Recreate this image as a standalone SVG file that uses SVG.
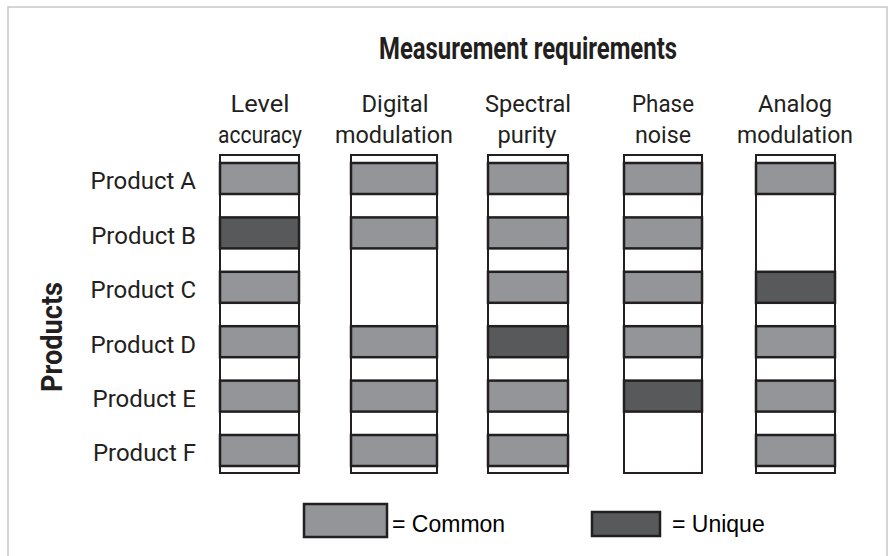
<svg xmlns="http://www.w3.org/2000/svg" width="890" height="556" viewBox="0 0 890 556">
<style>
.frame{fill:#fff;stroke:#c8c8c8;stroke-width:1.5}
.col{fill:#fff;stroke:#231f20;stroke-width:2}
.c{fill:#939598;stroke:#231f20;stroke-width:2.5}
.u{fill:#58595b;stroke:#231f20;stroke-width:2.5}
.lbl{font-family:Roboto,"Liberation Sans",sans-serif;font-size:24px;fill:#231f20}
.hd{font-family:Roboto,"Liberation Sans",sans-serif;font-weight:bold;fill:#231f20}
.leg{font-family:"Liberation Sans",Arial,sans-serif;font-size:23px;fill:#000}
</style>
<rect class="frame" x="8" y="7" width="879" height="560"/>
<text id="title" class="hd" x="528" y="59" font-size="31" text-anchor="middle" textLength="298" lengthAdjust="spacingAndGlyphs">Measurement requirements</text>
<text id="products" class="hd" font-size="30" text-anchor="middle" transform="translate(62,337) rotate(-90)" textLength="110" lengthAdjust="spacingAndGlyphs">Products</text>
<g id="row-labels" class="lbl" text-anchor="end">
<text x="196" y="189">Product A</text>
<text x="196" y="244">Product B</text>
<text x="196" y="298">Product C</text>
<text x="196" y="353">Product D</text>
<text x="196" y="407">Product E</text>
<text x="196" y="461">Product F</text>
</g>
<g id="col-level">
<text class="lbl" x="260" y="112" text-anchor="middle" textLength="59" lengthAdjust="spacingAndGlyphs">Level</text>
<text class="lbl" x="260" y="143" text-anchor="middle" textLength="84" lengthAdjust="spacingAndGlyphs">accuracy</text>
<rect class="col" x="220" y="155" width="79" height="318"/>
<rect class="c" x="220" y="163" width="79" height="31"/>
<rect class="u" x="220" y="217.4" width="79" height="31"/>
<rect class="c" x="220" y="271.8" width="79" height="31"/>
<rect class="c" x="220" y="326.2" width="79" height="31"/>
<rect class="c" x="220" y="380.6" width="79" height="31"/>
<rect class="c" x="220" y="435" width="79" height="31"/>
</g>
<g id="col-digital">
<text class="lbl" x="395" y="112" text-anchor="middle" textLength="67" lengthAdjust="spacingAndGlyphs">Digital</text>
<text class="lbl" x="394" y="143" text-anchor="middle" textLength="118" lengthAdjust="spacingAndGlyphs">modulation</text>
<rect class="col" x="351" y="155" width="86" height="318"/>
<rect class="c" x="351" y="163" width="86" height="31"/>
<rect class="c" x="351" y="217.4" width="86" height="31"/>
<rect class="c" x="351" y="326.2" width="86" height="31"/>
<rect class="c" x="351" y="380.6" width="86" height="31"/>
<rect class="c" x="351" y="435" width="86" height="31"/>
</g>
<g id="col-spectral">
<text class="lbl" x="528" y="112" text-anchor="middle" textLength="86" lengthAdjust="spacingAndGlyphs">Spectral</text>
<text class="lbl" x="527" y="143" text-anchor="middle" textLength="59" lengthAdjust="spacingAndGlyphs">purity</text>
<rect class="col" x="488" y="155" width="80" height="318"/>
<rect class="c" x="488" y="163" width="80" height="31"/>
<rect class="c" x="488" y="217.4" width="80" height="31"/>
<rect class="c" x="488" y="271.8" width="80" height="31"/>
<rect class="u" x="488" y="326.2" width="80" height="31"/>
<rect class="c" x="488" y="380.6" width="80" height="31"/>
<rect class="c" x="488" y="435" width="80" height="31"/>
</g>
<g id="col-phase">
<text class="lbl" x="663" y="112" text-anchor="middle" textLength="62" lengthAdjust="spacingAndGlyphs">Phase</text>
<text class="lbl" x="663" y="143" text-anchor="middle" textLength="56" lengthAdjust="spacingAndGlyphs">noise</text>
<rect class="col" x="624" y="155" width="78" height="318"/>
<rect class="c" x="624" y="163" width="78" height="31"/>
<rect class="c" x="624" y="217.4" width="78" height="31"/>
<rect class="c" x="624" y="271.8" width="78" height="31"/>
<rect class="c" x="624" y="326.2" width="78" height="31"/>
<rect class="u" x="624" y="380.6" width="78" height="31"/>
</g>
<g id="col-analog">
<text class="lbl" x="795" y="112" text-anchor="middle" textLength="74" lengthAdjust="spacingAndGlyphs">Analog</text>
<text class="lbl" x="795" y="143" text-anchor="middle" textLength="116" lengthAdjust="spacingAndGlyphs">modulation</text>
<rect class="col" x="756" y="155" width="79" height="318"/>
<rect class="c" x="756" y="163" width="79" height="31"/>
<rect class="u" x="756" y="271.8" width="79" height="31"/>
<rect class="c" x="756" y="326.2" width="79" height="31"/>
<rect class="c" x="756" y="380.6" width="79" height="31"/>
<rect class="c" x="756" y="435" width="79" height="31"/>
</g>
<g id="legend">
<rect class="c" x="304" y="504" width="83" height="33"/>
<text class="leg" x="392" y="532">= Common</text>
<rect class="u" x="592" y="512" width="68" height="24"/>
<text class="leg" x="672" y="532">= Unique</text>
</g>
</svg>
